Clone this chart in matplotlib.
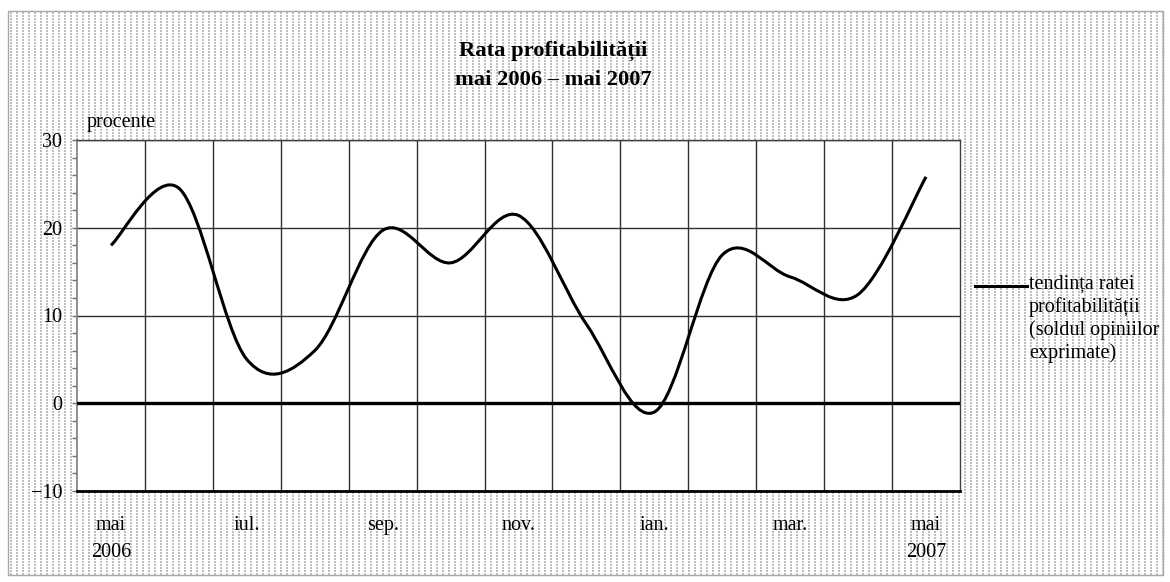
import numpy as np
import matplotlib
matplotlib.use('Agg')
import matplotlib.pyplot as plt
from matplotlib.path import Path
from matplotlib.patches import PathPatch, Rectangle
from matplotlib.lines import Line2D
from matplotlib.ticker import MultipleLocator, FixedLocator

# data
months = ['mai', 'iun.', 'iul.', 'aug.', 'sep.', 'oct.', 'nov.',
          'dec.', 'ian.', 'feb.', 'mar.', 'apr.', 'mai']
tick_labels = ['mai\n2006', '', 'iul.', '', 'sep.', '', 'nov.',
               '', 'ian.', '', 'mar.', '', 'mai\n2007']
rata = [18.0, 24.5, 5.0, 6.0, 19.7, 16.0, 21.4, 9.0, -1.0, 16.9, 14.4, 12.4, 25.8]

W, H = 1170, 582
plt.rcParams['font.family'] = ['Liberation Serif', 'DejaVu Serif']

fig = plt.figure(figsize=(W / 100, H / 100), dpi=100, facecolor='white')

# dotted background (Excel style pattern)
bg = np.ones((H, W, 3))
yy, xx = np.mgrid[0:H, 0:W]
inside = (xx > 8) & (xx < 1163) & (yy > 11) & (yy < 575)
dots = inside & (((xx - 10) % 6) < 2) & (((yy - 12) % 3) < 2)
bg[dots] = 0.75
fig.figimage(bg, xo=0, yo=0, origin='upper', zorder=-5)
fig.add_artist(Rectangle((8 / W, 1 - 575 / H), 1155 / W, 564 / H,
                         transform=fig.transFigure, fill=False,
                         edgecolor='#a8a8a8', lw=1))

ax = fig.add_axes([77 / W, 1 - 491 / H, 883 / W, 351 / H])
ax.set_facecolor('white')

x = np.arange(len(rata))
y = np.array(rata)

# smoothed line like Excel: cubic bezier through each point
verts = [(x[0], y[0])]
codes = [Path.MOVETO]
n = len(x)
for i in range(n - 1):
    p0 = np.array([x[max(i - 1, 0)], y[max(i - 1, 0)]])
    p1 = np.array([x[i], y[i]])
    p2 = np.array([x[i + 1], y[i + 1]])
    p3 = np.array([x[min(i + 2, n - 1)], y[min(i + 2, n - 1)]])
    c1 = p1 + (p2 - p0) / 6
    c2 = p2 - (p3 - p1) / 6
    verts += [tuple(c1), tuple(c2), tuple(p2)]
    codes += [Path.CURVE4] * 3
ax.add_patch(PathPatch(Path(verts, codes), facecolor='none',
                       edgecolor='black', lw=2.2, zorder=4,
                       capstyle='butt', joinstyle='round'))

ax.set_xlim(-0.5, len(rata) - 0.5)
ax.set_ylim(-10, 30)

# vertical grid at the category borders
ax.xaxis.set_major_locator(FixedLocator(np.arange(0.5, len(rata) - 0.5, 1)))
ax.xaxis.set_minor_locator(FixedLocator(x))
ax.set_xticklabels([], minor=False)
ax.set_xticklabels(tick_labels, minor=True, fontsize=14.5)
for lbl in ax.get_xticklabels(minor=True):
    lbl.set_linespacing(1.55)
ax.tick_params(axis='x', which='both', length=0)
ax.tick_params(axis='x', which='minor', pad=18)
ax.grid(True, axis='x', which='major', color='#303030', lw=1)

ax.yaxis.set_major_locator(MultipleLocator(10))
ax.yaxis.set_minor_locator(MultipleLocator(2))
ax.tick_params(axis='y', which='both', direction='out', length=3.6,
               width=1, color='#707070', labelsize=14.5, pad=7)
ax.grid(True, axis='y', which='major', color='#303030', lw=1)
ax.axhline(0, color='black', lw=2.4, zorder=3)

for s in ['top', 'right']:
    ax.spines[s].set_color('#404040')
    ax.spines[s].set_linewidth(1)
ax.spines['left'].set_color('#808080')
ax.spines['left'].set_linewidth(1.2)
ax.spines['bottom'].set_color('black')
ax.spines['bottom'].set_linewidth(2)

fig.text(87 / W, 1 - 122 / H, 'procente', fontsize=14.5, va='center', ha='left')

fig.text(553 / W, 1 - 51 / H, 'Rata profitabilității', fontsize=16.2,
         fontweight='bold', ha='center', va='center')
fig.text(553 / W, 1 - 80 / H, 'mai 2006 – mai 2007', fontsize=16.2,
         fontweight='bold', ha='center', va='center')

# legend
fig.add_artist(Line2D([975 / W, 1027 / W], [1 - 286 / H, 1 - 286 / H],
                      transform=fig.transFigure, color='black', lw=2.2))
fig.text(1029 / W, 1 - 275 / H,
         'tendința ratei\nprofitabilității\n(soldul opiniilor\nexprimate)',
         fontsize=14.5, ha='left', va='top', linespacing=1.22)

fig.savefig('out.png', dpi=100, facecolor='white')
